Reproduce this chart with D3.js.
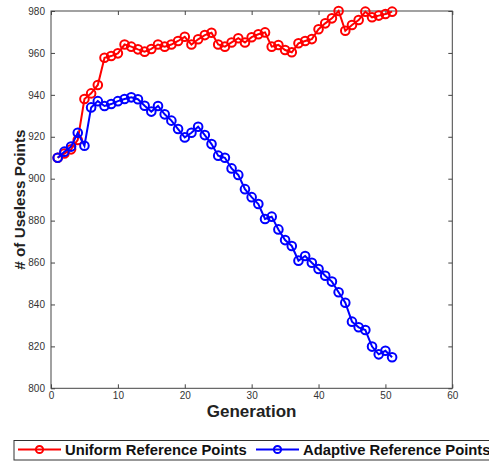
<!DOCTYPE html>
<html><head><meta charset="utf-8">
<script src="https://cdn.jsdelivr.net/npm/d3@7"></script>
<style>body{margin:0;background:#fff;} svg{display:block;font-family:"Liberation Sans",Arial,Helvetica,sans-serif;}</style>
</head><body>
<svg id="chart" width="489" height="462"></svg>
<script>
const generations = d3.range(1, 52);
const uniform = [910,912,914,918.5,938,940.7,944.7,957.7,958.5,959.8,964,963,961.7,960.6,961.9,964,963,964,965.7,967.7,964,966.5,968.5,969.6,964,963,965,967,965,967.5,968.9,969.8,963,963.8,961.4,960.3,964.6,965.7,966.6,971.3,974.1,976.5,980,970.6,973.3,975.7,979.7,977,977.8,978.6,979.7];
const adaptive = [910,912.9,915.3,921.9,915.7,934,937,934.7,935.6,937,938,938.8,937.9,934.8,932,934.7,930.7,927.7,923.7,919.7,921.9,924.8,920.8,916.5,911,910,904.9,901.8,895,891.2,887.9,880.8,881.9,875.8,870.7,867.9,860.9,863.1,859.9,856.9,853.7,850.9,845.8,840.8,831.8,829.1,827.8,819.9,816.2,817.9,814.8];
const seriesNames = ["Uniform Reference Points", "Adaptive Reference Points"];
const seriesColors = ["#ff0000", "#0000ff"];
const xTicks = [0,10,20,30,40,50,60];
const yTicks = [800,820,840,860,880,900,920,940,960,980];

const svg = d3.select("#chart");
const L = 51, R = 452.3, T = 11, B = 388.3;
const x = d3.scaleLinear().domain([0, 60]).range([L, R]);
const y = d3.scaleLinear().domain([800, 980]).range([B, T]);
const axisColor = "#444";
const tickLen = 4;

// frame
svg.append("rect").attr("x", L).attr("y", T).attr("width", R - L).attr("height", B - T)
  .attr("fill", "none").attr("stroke", axisColor).attr("stroke-width", 1);

// axes with inward ticks
const gx = svg.append("g").attr("transform", `translate(0,${B})`)
  .call(d3.axisBottom(x).tickValues(xTicks).tickSize(-tickLen).tickPadding(4));
const gxt = svg.append("g").attr("transform", `translate(0,${T})`)
  .call(d3.axisTop(x).tickValues(xTicks).tickSize(-tickLen).tickFormat(""));
const gy = svg.append("g").attr("transform", `translate(${L},0)`)
  .call(d3.axisLeft(y).tickValues(yTicks).tickSize(-tickLen).tickPadding(6));
const gyr = svg.append("g").attr("transform", `translate(${R},0)`)
  .call(d3.axisRight(y).tickValues(yTicks).tickSize(-tickLen).tickFormat(""));
[gx, gxt, gy, gyr].forEach(g => {
  g.select(".domain").remove();
  g.selectAll(".tick line").attr("stroke", axisColor);
  g.selectAll(".tick text").attr("fill", "#333").style("font-size", "10px")
    .style("font-family", "'Liberation Sans',Arial,sans-serif");
});

// axis labels
svg.append("text").attr("x", (L + R) / 2).attr("y", 417).attr("text-anchor", "middle")
  .style("font-size", "17px").style("font-weight", "bold").attr("fill", "#222").text("Generation");
svg.append("text").attr("transform", `translate(24.5,${(T + B) / 2}) rotate(-90)`).attr("text-anchor", "middle")
  .style("font-size", "15.3px").style("font-weight", "bold").attr("fill", "#222").text("# of Useless Points");

// series
const data = [uniform, adaptive];
const line = d3.line().x((d, i) => x(generations[i])).y(d => y(d));
data.forEach((vals, si) => {
  svg.append("path").datum(vals).attr("d", line).attr("fill", "none")
    .attr("stroke", seriesColors[si]).attr("stroke-width", 2);
  svg.append("g").selectAll("circle").data(vals).join("circle")
    .attr("cx", (d, i) => x(generations[i])).attr("cy", d => y(d)).attr("r", 4.3)
    .attr("fill", "none").attr("stroke", seriesColors[si]).attr("stroke-width", 2);
});

// legend
const lg = svg.append("g");
lg.append("rect").attr("x", 14).attr("y", 440.5).attr("width", 480).attr("height", 19.5)
  .attr("fill", "#fff").attr("stroke", "#333").attr("stroke-width", 1);
const legX = [18, 256];
seriesNames.forEach((name, i) => {
  const g = lg.append("g").attr("transform", `translate(${legX[i]},449.5)`);
  g.append("line").attr("x1", 0).attr("x2", 43).attr("y1", 0).attr("y2", 0)
    .attr("stroke", seriesColors[i]).attr("stroke-width", 2);
  g.append("circle").attr("cx", 21.5).attr("cy", 0).attr("r", 3.6).attr("fill", "none")
    .attr("stroke", seriesColors[i]).attr("stroke-width", 2);
  g.append("text").attr("x", 47).attr("y", 5.2).style("font-size", "14.8px").style("font-weight", "bold")
    .attr("fill", "#111").text(name);
});
</script>
</body></html>
